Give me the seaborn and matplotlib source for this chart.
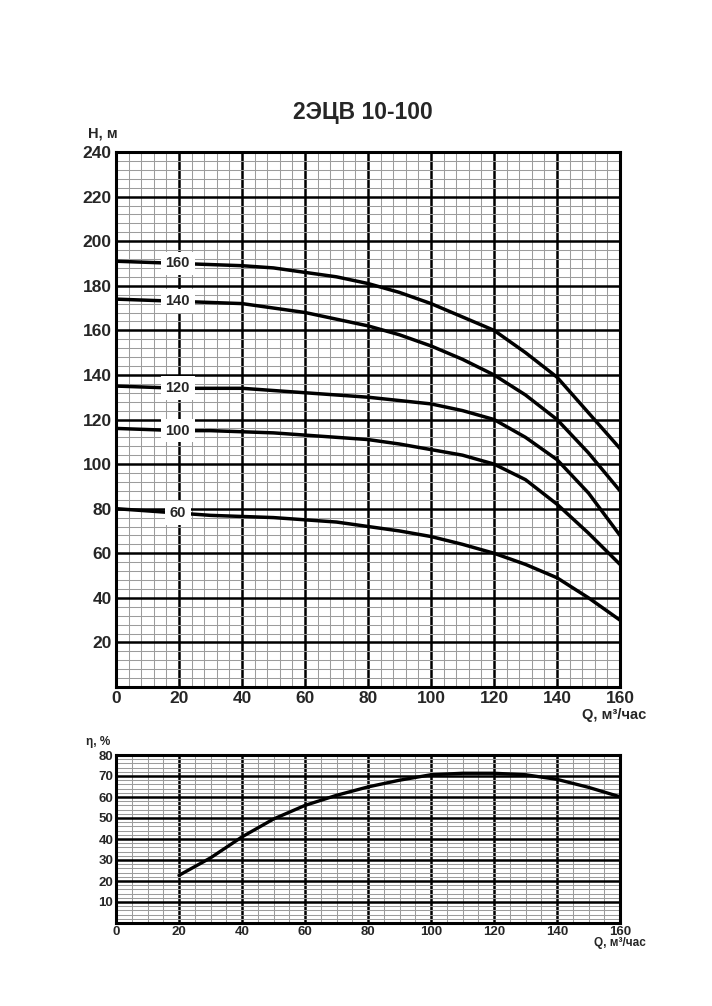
import numpy as np
import pandas as pd
import matplotlib
matplotlib.use("Agg")
import matplotlib.pyplot as plt
import seaborn as sns

# --- data ---
q = [0, 10, 20, 30, 40, 50, 60, 70, 80, 90, 100, 110, 120, 130, 140, 150, 160]
h160 = [191, 190.5, 190, 189.5, 189, 188, 186, 184, 181, 177, 172, 166, 160, 150, 139, 123, 107]
h140 = [174, 173.5, 173, 172.5, 172, 170, 168, 165, 162, 158, 153, 147, 140, 131, 120, 105, 88]
h120 = [135, 134.5, 134, 134, 134, 133, 132, 131, 130, 128.5, 127, 124, 120, 112, 102, 87, 68]
h100 = [116, 115.5, 115, 115, 114.5, 114, 113, 112, 111, 109, 106.5, 104, 100, 93, 82, 69, 55]
h60 = [80, 79, 78, 77, 76.5, 76, 75, 74, 72, 70, 67.5, 64, 60, 55, 49, 40, 30]
curve_names = ["160", "140", "120", "100", "60"]
label_q = 19.6

q_eta = [20, 30, 40, 50, 60, 70, 80, 90, 100, 110, 120, 130, 140, 150, 160]
eta = [22.7, 31, 41, 49.5, 56, 60.8, 64.8, 68, 70.6, 71.3, 71.3, 70.6, 68.4, 64.6, 60.1]

title = "2ЭЦВ 10-100"

sns.set_style("white")
plt.rcParams['font.family'] = ['Liberation Sans', 'DejaVu Sans']
plt.rcParams['font.weight'] = 'bold'

fig = plt.figure(figsize=(7.12, 10.06), dpi=100)
W, H = 712, 1006
ax1 = fig.add_axes([116 / W, 1 - 687 / H, 504 / W, 535 / H])
ax2 = fig.add_axes([116 / W, 1 - 923 / H, 504 / W, 168 / H])


def style_grid(ax, xmaj, xmin, ymaj, ymin):
    ax.set_xticks(xmaj)
    ax.set_xticks(xmin, minor=True)
    ax.set_yticks(ymaj)
    ax.set_yticks(ymin, minor=True)
    ax.grid(which='minor', color='#9c9c9c', lw=0.75)
    ax.grid(which='major', color='black', lw=1.8)
    ax.set_axisbelow(True)
    ax.tick_params(which='both', length=0)
    for s in ax.spines.values():
        s.set_color('black')
        s.set_linewidth(2.2)
    ax.set_xlabel('')
    ax.set_ylabel('')


# --- head curves ---
heads = [h160, h140, h120, h100, h60]
df = pd.DataFrame({'Q': q * len(heads),
                   'H': sum(heads, []),
                   'curve': sum([[n] * len(q) for n in curve_names], [])})
sns.lineplot(data=df, x='Q', y='H', hue='curve', palette=['black'] * len(heads),
             lw=2.5, legend=False, ax=ax1)
for name, h in zip(curve_names, heads):
    ax1.text(label_q, np.interp(label_q, q, h), name, ha='center', va='center',
             fontsize=10.5, fontweight='bold', zorder=5,
             bbox=dict(facecolor='white', edgecolor='none', pad=3.5))

ax1.set_xlim(0, 160)
ax1.set_ylim(0, 240)
style_grid(ax1, range(0, 161, 20), np.arange(0, 161, 4),
           range(20, 241, 20), np.arange(0, 241, 4))
ax1.tick_params(axis='both', labelsize=12.5, pad=3)
for lab in ax1.get_xticklabels() + ax1.get_yticklabels():
    lab.set_fontweight('bold')

# --- efficiency curve ---
sns.lineplot(x=q_eta, y=eta, color='black', lw=2.4, ax=ax2)
ax2.set_xlim(0, 160)
ax2.set_ylim(0, 80)
style_grid(ax2, range(0, 161, 20), np.arange(0, 161, 5),
           range(10, 81, 10), np.arange(0, 81, 2))
ax2.tick_params(axis='both', labelsize=9.5, pad=2)
for lab in ax2.get_xticklabels() + ax2.get_yticklabels():
    lab.set_fontweight('bold')

# --- text ---
fig.text(363 / W, 1 - 112 / H, title, ha='center', va='center',
         fontsize=16.5, fontweight='bold')
fig.text(118 / W, 1 - 133 / H, 'H, м', ha='right', va='center',
         fontsize=10.5, fontweight='bold')
fig.text(646 / W, 1 - 715 / H, 'Q, м³/час', ha='right', va='center',
         fontsize=10.5, fontweight='bold')
fig.text(86 / W, 1 - 742 / H, 'η, %', ha='left', va='center',
         fontsize=8.5, fontweight='bold')
fig.text(646 / W, 1 - 943 / H, 'Q, м³/час', ha='right', va='center',
         fontsize=8.5, fontweight='bold')

fig.savefig('out.png', dpi=100, facecolor='white')
